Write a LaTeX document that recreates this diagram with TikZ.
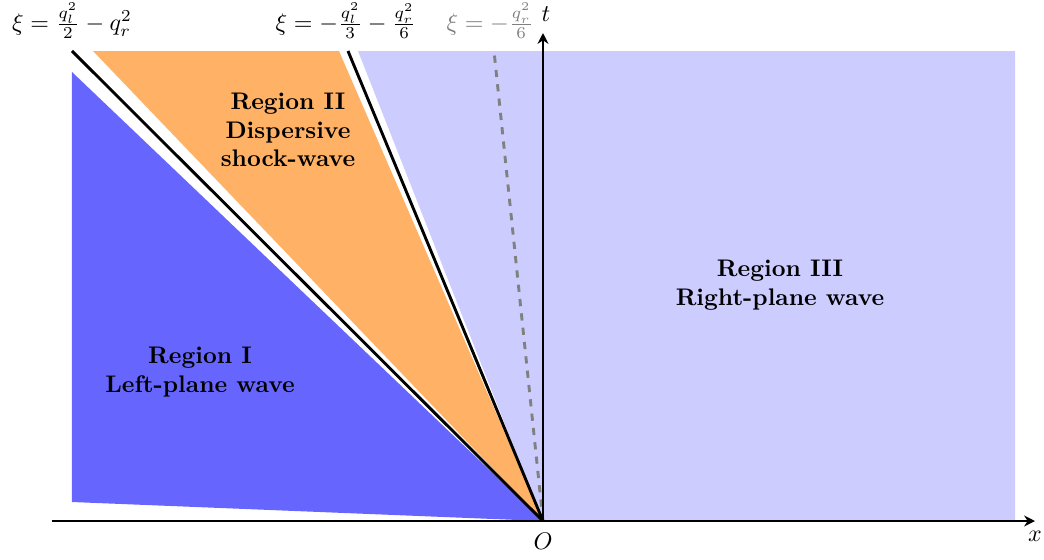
\documentclass[tikz,border=0pt]{standalone}
\usetikzlibrary{arrows.meta}
\begin{document}
\begin{tikzpicture}[x=0.4167pt,y=0.4167pt,
  axis/.style={line width=1.2pt,-{Stealth[length=4.5pt,width=4.5pt]}},
  border/.style={line width=1.2pt},
  regtext/.style={font=\bfseries,align=center},
  lab/.style={inner sep=1pt}]
\useasboundingbox (-543,-38) rectangle (501,521);
% regions
\fill[blue!60] (0,0) -- (-471,19) -- (-471,449) -- cycle;
\fill[orange!60] (0,0) -- (-450,470) -- (-204,470) -- cycle;
\fill[blue!20] (0,0) -- (-185,470) -- (472,470) -- (472,0) -- cycle;
% coordinates
\coordinate (O) at (0,0);
\coordinate (A) at (-471,470);
\coordinate (B) at (-195,470);
\coordinate (C) at (-49,470);
\coordinate (xs) at (-491,0);
\coordinate (xe) at (492,0);
\coordinate (te) at (0,488);
% lines
\draw[dashed,gray,line width=1.2pt] (O) -- (C);
\draw[border] (O) -- (A);
\draw[border] (O) -- (B);
\draw[axis] (xs) -- (xe);
\draw[axis] (O) -- (te);
% labels
\node[lab] (la) at (-471,500) {$\xi=\frac{q_l^2}{2}-q_r^2$};
\node[lab] (lb) at (-197,500) {$\xi=-\frac{q_l^2}{3}-\frac{q_r^2}{6}$};
\node[lab,text=gray] (lc) at (-53,500) {$\xi=-\frac{q_r^2}{6}$};
\node[lab] (lt) at (3,507) {$t$};
\node[lab] (lo) at (0,-20) {$O$};
\node[lab] (lx) at (492,-15) {$x$};
\node[regtext] (r1) at (-343,149) {Region I\\Left-plane wave};
\node[regtext] (r2) at (-255,391) {Region II\\Dispersive\\shock-wave};
\node[regtext] (r3) at (237,236) {Region III\\Right-plane wave};
\end{tikzpicture}
\end{document}
